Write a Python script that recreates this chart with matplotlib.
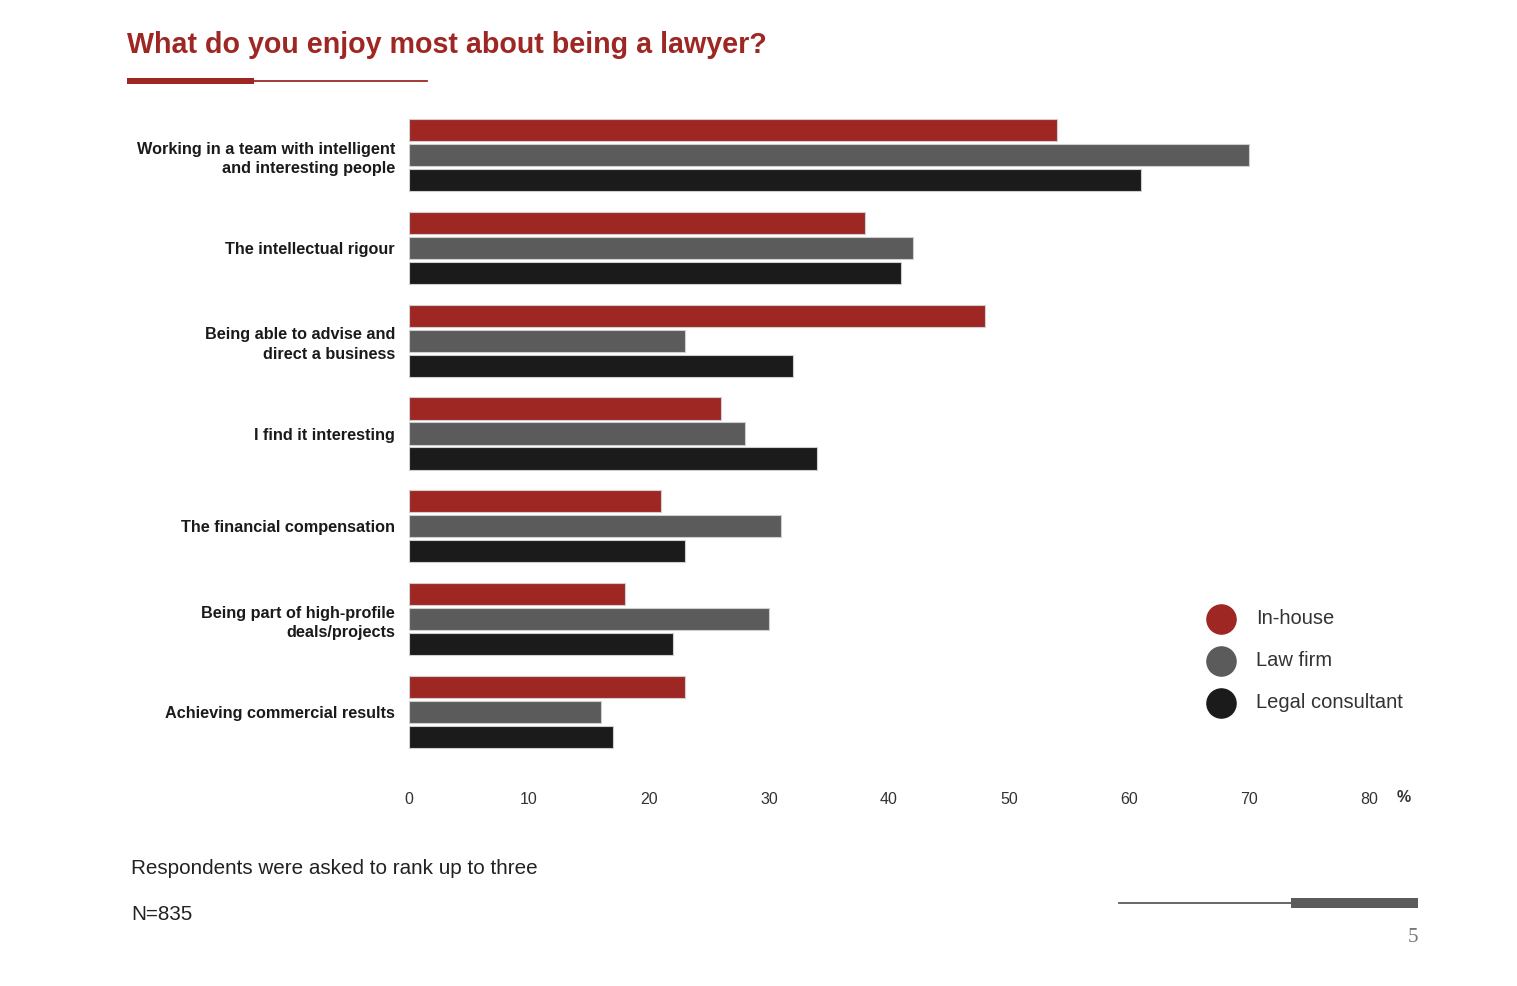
import numpy as np
import matplotlib
matplotlib.use("Agg")
import matplotlib.pyplot as plt
from matplotlib.patches import Rectangle
from matplotlib.lines import Line2D

plt.rcParams['font.family'] = ['Liberation Sans', 'DejaVu Sans']

# data (percent of respondents)
categories = [
    "Working in a team with intelligent\nand interesting people",
    "The intellectual rigour",
    "Being able to advise and\ndirect a business",
    "I find it interesting",
    "The financial compensation",
    "Being part of high-profile\ndeals/projects",
    "Achieving commercial results",
]
in_house = [54, 38, 48, 26, 21, 18, 23]
law_firm = [70, 42, 23, 28, 31, 30, 16]
legal_consultant = [61, 41, 32, 34, 23, 22, 17]
series_names = ["In-house", "Law firm", "Legal consultant"]
colors = ["#9E2724", "#5B5B5B", "#1B1B1B"]
xticks = [0, 10, 20, 30, 40, 50, 60, 70, 80]

W, H = 1517, 986
fig = plt.figure(figsize=(W / 100, H / 100), dpi=100)
ax = fig.add_axes([409 / W, 1 - 767.5 / H, 960 / W, 668 / H])

y = np.arange(len(categories))
off = 0.27
h = 0.24
for vals, c, d in zip([in_house, law_firm, legal_consultant], colors, [-off, 0, off]):
    ax.barh(y + d, vals, height=h, color=c, edgecolor="#cfcfcf", linewidth=0.8)

ax.set_xlim(0, 80)
ax.set_ylim(6.6, -0.6)
ax.set_xticks(xticks)
ax.set_xticklabels([str(t) for t in xticks], fontsize=11.5, color="#333333")
ax.set_yticks(y)
ax.set_yticklabels(categories, fontsize=11.7, fontweight="bold", color="#1a1a1a",
                   linespacing=1.4)
ax.tick_params(axis="both", length=0)
ax.tick_params(axis="x", pad=18)
ax.tick_params(axis="y", pad=10)
for s in ax.spines.values():
    s.set_visible(False)

ax.text(1404 / W, 1 - 798 / H, "%", transform=fig.transFigure, ha="center",
        va="center", fontsize=11.5, fontweight="bold", color="#333333")

# title and decorations
fig.text(127 / W, 1 - 45 / H, "What do you enjoy most about being a lawyer?",
         fontsize=20.6, fontweight="bold", color="#9E2724", va="center", ha="left")
fig.add_artist(Rectangle((127 / W, 1 - 84 / H), 127 / W, 6 / H,
                         transform=fig.transFigure, color="#9E2724", lw=0))
fig.add_artist(Line2D([254 / W, 427 / W], [1 - 81 / H, 1 - 81 / H],
                      transform=fig.transFigure, color="#9E2724", lw=1.3))

# legend
for i, (name, c) in enumerate(zip(series_names, colors)):
    yy = 1 - (619 + 42 * i) / H
    fig.add_artist(Line2D([1221 / W], [yy], marker="o", markersize=21,
                          color=c, transform=fig.transFigure, lw=0))
    fig.text(1256 / W, yy, name, fontsize=14.5, color="#333333", va="center", ha="left")

# footer
fig.text(131 / W, 1 - 869 / H, "Respondents were asked to rank up to three",
         fontsize=14.9, color="#222222", va="center", ha="left")
fig.text(131 / W, 1 - 915 / H, "N=835", fontsize=14.9, color="#222222",
         va="center", ha="left")
fig.add_artist(Line2D([1119 / W, 1291 / W], [1 - 903 / H, 1 - 903 / H],
                      transform=fig.transFigure, color="#5B5B5B", lw=1.3))
fig.add_artist(Rectangle((1291 / W, 1 - 908 / H), 127 / W, 10 / H,
                         transform=fig.transFigure, color="#5B5B5B", lw=0))
fig.text(1418 / W, 1 - 938 / H, "5", fontsize=15, color="#777777",
         family="Liberation Serif", va="center", ha="right")

fig.savefig("out.png", dpi=100)
